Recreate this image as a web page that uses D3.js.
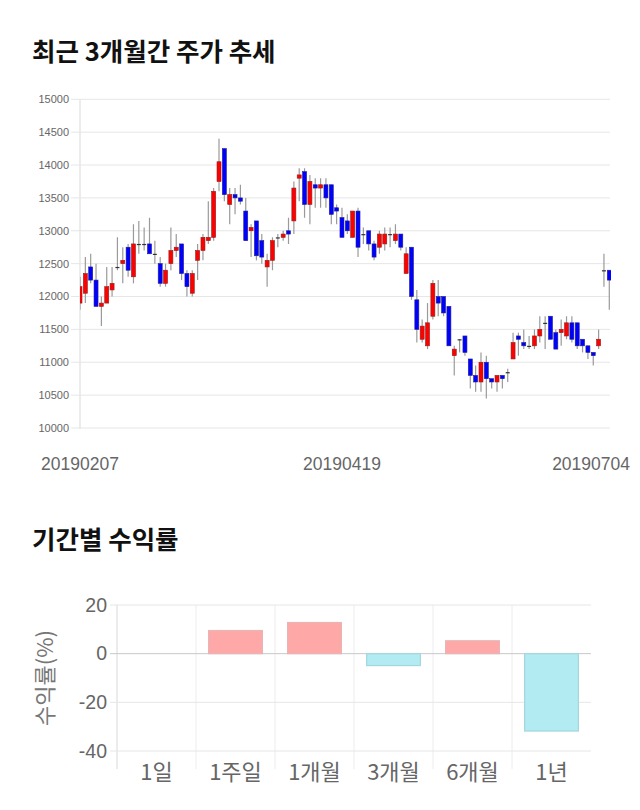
<!DOCTYPE html>
<html><head><meta charset="utf-8">
<script src="https://cdn.jsdelivr.net/npm/d3@7"></script>
<style>body{margin:0;background:#fff;} svg{display:block;}</style>
</head><body><svg id="c" width="640" height="810"></svg>
<script>
// ---- Price data (OHLC) ----
const opens  = [11900,12050,12450,12250,11850,11900,12100,12450,12500,12750,12300,12800,12800,12800,12650,12500,12200,12500,12700,12800,
                12350,12050,12550,12700,12850,12900,13750,14250,13400,13550,13500,13300,13000,13150,12850,12450,12550,12900,12900,13000,
                13150,13800,13900,13400,13700,13650,13700,13700,13350,13200,13150,12900,13300,12950,13000,12800,12750,12800,12950,12850,
                12950,12350,12750,11950,11350,11250,11700,12000,12000,11850,11100,11350,11400,11050,10800,10700,11000,10750,10700,10800,
                10850,11050,11400,11300,11250,11250,11400,11600,11700,11450,11450,11400,11600,11600,11350,11250,11150,11250,12400,12400];
const highs  = [12300,12600,12650,12500,12000,12450,12450,12900,12750,12800,13100,13150,13050,13200,12850,12600,12500,13050,12950,12800,
                12400,12400,12800,12950,13450,13650,14400,14250,13650,13650,13700,13500,13100,13150,12950,12650,12900,12950,13000,13200,
                13750,13950,13950,13850,13800,13800,13800,13700,13400,13350,13250,13300,13350,13050,13000,12850,13000,13050,13050,13100,
                12950,12750,12750,12100,11650,11900,12250,12250,12000,11850,11250,11350,11400,11050,10950,11150,11100,10750,10800,10800,
                10900,11450,11450,11500,11400,11500,11700,11700,11700,11500,11650,11700,11700,11600,11350,11250,11150,11500,12650,12400];
const lows   = [11800,11900,12200,11850,11550,11900,12000,12400,12200,12300,12200,12650,12700,12650,12500,12150,12150,12400,12600,12250,
                12000,12000,12250,12550,12800,12850,13600,13450,13100,13250,13400,12850,12600,12550,12500,12150,12400,12750,12850,12800,
                12950,13450,13200,13100,13350,13350,13350,13100,13100,12900,12950,12900,12600,12800,12700,12550,12650,12700,12750,12800,
                12700,12350,11950,11300,11300,11200,11650,11700,11700,11250,10800,11150,11100,10600,10550,10550,10450,10600,10550,10600,
                10700,11050,11100,11200,11200,11200,11300,11200,11350,11200,11250,11350,11300,11200,11150,11050,10950,11200,12150,11800];
const closes = [12150,12350,12250,11850,11900,12150,12200,12450,12550,12400,12800,12800,12800,12650,12650,12200,12400,12700,12750,12350,
                12150,12350,12700,12900,12900,13600,14050,13550,13550,13500,13450,12850,13050,12620,12600,12550,12850,12900,12950,12950,
                13650,13850,13400,13750,13650,13700,13500,13250,13300,12900,13000,13300,12750,12950,12800,12600,12950,12950,12950,12950,
                12750,12650,12000,11500,11550,11600,12200,11900,11750,11250,11200,11350,11150,10800,10700,11000,10750,10700,10800,10750,
                10850,11300,11350,11250,11250,11400,11500,11600,11350,11200,11500,11600,11350,11250,11250,11150,11100,11350,12400,12250];
const priceTicks = [10000,10500,11000,11500,12000,12500,13000,13500,14000,14500,15000];
const dateLabels = ["20190207","20190419","20190704"];
const dateLabelIdx = [0,49,99];

// ---- Returns data ----
const periods = ["1일","1주일","1개월","3개월","6개월","1년"];
const returns = [0, 9.5, 12.8, -4.9, 5.3, -31.8];
const returnTicks = [20, 0, -20, -40];

const svg = d3.select("#c");
const KR = "'Noto Sans CJK KR','Noto Sans',sans-serif";
const LAT = "'Liberation Sans',Arial,sans-serif";

// ---- Title 1 ----
svg.append("text").attr("x",32).attr("y",61).text("최근 3개월간 주가 추세")
  .attr("font-family",KR).attr("font-weight",700).attr("font-size",25.5).attr("fill","#111");

// ---- Candlestick chart ----
const L = 80, R = 610, T = 99.3, B = 428;
const x = d3.scaleLinear().domain([0, opens.length-1]).range([L, 609.3]);
const y = d3.scaleLinear().domain([10000,15000]).range([B, T]);

const gy = svg.append("g");
priceTicks.forEach(v => {
  gy.append("line").attr("x1",71).attr("x2",R).attr("y1",y(v)).attr("y2",y(v))
    .attr("stroke","#e6e6e6").attr("stroke-width",1);
  gy.append("text").attr("x",69).attr("y",y(v)).attr("dy","0.35em").attr("text-anchor","end")
    .attr("font-family",LAT).attr("font-size",11).attr("fill","#666").text(v);
});
svg.append("line").attr("x1",L).attr("x2",L).attr("y1",T).attr("y2",B+1)
  .attr("stroke","#e6e6e6").attr("stroke-width",1.5);

svg.append("clipPath").attr("id","clip").append("rect")
  .attr("x",L).attr("y",T-20).attr("width",R-L+1).attr("height",B-T+40);
const gc = svg.append("g").attr("clip-path","url(#clip)");
const idx = d3.range(opens.length);
const bw = 4;
gc.selectAll("line.w").data(idx).join("line").attr("class","w")
  .attr("x1",i=>x(i)).attr("x2",i=>x(i)).attr("y1",i=>y(highs[i])).attr("y2",i=>y(lows[i]))
  .attr("stroke","#9a9a9a").attr("stroke-width",1.2);
gc.selectAll("rect.b").data(idx).join("rect").attr("class","b")
  .attr("x",i=>x(i)-bw/2).attr("width",bw)
  .attr("y",i=>y(Math.max(opens[i],closes[i])))
  .attr("height",i=>Math.max(1.2, Math.abs(y(opens[i])-y(closes[i]))))
  .attr("fill",i=> closes[i]>opens[i] ? "#ff0000" : closes[i]<opens[i] ? "#0000ff" : "#333")
  .attr("stroke",i=> closes[i]>opens[i] ? "#8a2020" : closes[i]<opens[i] ? "#20208a" : "none")
  .attr("stroke-width",0.6);

dateLabels.forEach((t,k) => {
  const tx = svg.append("text").attr("y",470).attr("text-anchor","middle")
    .attr("font-family",LAT).attr("font-size",17.5).attr("fill","#666").text(t);
  const w = tx.node().getComputedTextLength();
  let cx = x(dateLabelIdx[k]);
  cx = Math.min(cx, 640 - 10 - w/2);
  tx.attr("x", cx);
});

// ---- Title 2 ----
svg.append("text").attr("x",32).attr("y",549).text("기간별 수익률")
  .attr("font-family",KR).attr("font-weight",700).attr("font-size",25.5).attr("fill","#111");

// ---- Returns bar chart ----
const bL = 117, bR = 591, bT = 605, bB = 751;
const xb = d3.scaleBand().domain(periods).range([bL,bR]);
const yb = d3.scaleLinear().domain([-40,20]).range([bB,bT]);
const gb = svg.append("g");
periods.forEach((p,i) => {
  const xx = xb(p);
  gb.append("line").attr("x1",xx).attr("x2",xx).attr("y1",bT).attr("y2",bB+18)
    .attr("stroke", i===0 ? "#d8d8d8" : "#ececec").attr("stroke-width",1);
});
returnTicks.forEach(v => {
  gb.append("line").attr("x1",bL-7).attr("x2",bR).attr("y1",yb(v)).attr("y2",yb(v))
    .attr("stroke", v===0 ? "#c8c8c8" : "#e6e6e6").attr("stroke-width",1);
  gb.append("text").attr("x",107).attr("y",yb(v)).attr("dy","0.35em").attr("text-anchor","end")
    .attr("font-family",LAT).attr("font-size",19.5).attr("fill","#666").text(v);
});
const barW = xb.bandwidth()*0.68;
gb.selectAll("rect.r").data(periods).join("rect").attr("class","r")
  .attr("x",(p)=>xb(p)+xb.bandwidth()/2-barW/2).attr("width",barW)
  .attr("y",(p,i)=>yb(Math.max(0,returns[i])))
  .attr("height",(p,i)=>Math.abs(yb(returns[i])-yb(0)))
  .attr("fill",(p,i)=>returns[i]>=0 ? "#ffa8a8" : "#b2ebf2")
  .attr("stroke",(p,i)=>returns[i]>=0 ? "#e8b4b4" : "#a4d6de")
  .attr("stroke-width",1.2);
periods.forEach(p => {
  gb.append("text").attr("x",xb(p)+xb.bandwidth()/2).attr("y",780).attr("text-anchor","middle")
    .attr("font-family",KR).attr("font-size",22).attr("fill","#666").text(p);
});
svg.append("text").attr("transform","translate(53,678) rotate(-90)").attr("text-anchor","middle")
  .attr("font-family",KR).attr("font-size",22).attr("fill","#777").text("수익률(%)");
</script></body></html>
